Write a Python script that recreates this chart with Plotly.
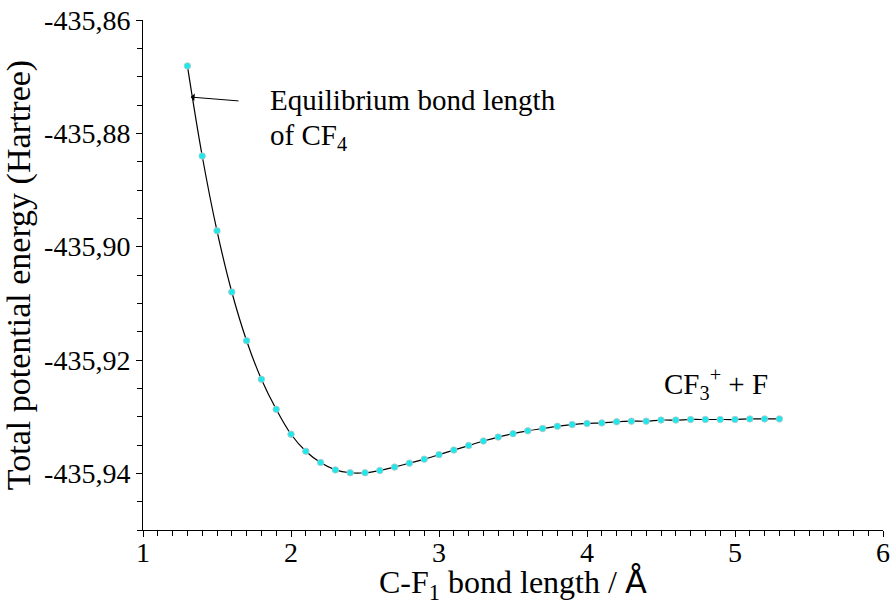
import plotly.graph_objects as go

bond_length = [1.3, 1.4, 1.5, 1.6, 1.7, 1.8, 1.9, 2.0, 2.1, 2.2, 2.3, 2.4, 2.5, 2.6, 2.7,
               2.8, 2.9, 3.0, 3.1, 3.2, 3.3, 3.4, 3.5, 3.6, 3.7, 3.8, 3.9, 4.0, 4.1, 4.2,
               4.3, 4.4, 4.5, 4.6, 4.7, 4.8, 4.9, 5.0, 5.1, 5.2, 5.3]
energy = [-435.8681, -435.8840, -435.8972, -435.9080, -435.9166, -435.9234, -435.9287,
          -435.9331, -435.9361, -435.9381, -435.9394, -435.9399, -435.9399, -435.9395,
          -435.9389, -435.9382, -435.9375, -435.9367, -435.9359, -435.9351, -435.9343,
          -435.9336, -435.9330, -435.9325, -435.9321, -435.9317, -435.9314, -435.9312,
          -435.9311, -435.9309, -435.9308, -435.9308, -435.9306, -435.9306, -435.9305,
          -435.9305, -435.9305, -435.9305, -435.9304, -435.9304, -435.9304]

x_ticks = [1, 2, 3, 4, 5, 6]
y_ticks = [-435.94, -435.92, -435.90, -435.88, -435.86]
y_tick_labels = ["-435,94", "-435,92", "-435,90", "-435,88", "-435,86"]

FONT = "Liberation Serif"

fig = go.Figure()
fig.add_trace(go.Scatter(
    x=bond_length, y=energy, mode="lines",
    line=dict(color="black", width=1.2, shape="spline"),
    hoverinfo="skip", showlegend=False))
fig.add_trace(go.Scatter(
    x=bond_length, y=energy, mode="markers",
    marker=dict(color="#1de9ec", size=6.5, line=dict(color="#b8c4c4", width=0.8)),
    showlegend=False))

# arrow pointing at the equilibrium bond length
fig.add_annotation(x=1.322, y=-435.8736, ax=1.655, ay=-435.8743,
                   xref="x", yref="y", axref="x", ayref="y",
                   text="", showarrow=True, arrowhead=1, arrowsize=1.3,
                   arrowwidth=1, arrowcolor="black")
fig.add_annotation(x=1.845, y=-435.8741, xref="x", yref="y", xanchor="left", yanchor="middle",
                   text="Equilibrium bond length", showarrow=False,
                   font=dict(family=FONT, size=29, color="black"))
fig.add_annotation(x=1.845, y=-435.8806, xref="x", yref="y", xanchor="left", yanchor="middle",
                   text="of CF<sub>4</sub>", showarrow=False,
                   font=dict(family=FONT, size=29, color="black"))
fig.add_annotation(x=4.505, y=-435.9243, xref="x", yref="y", xanchor="left", yanchor="middle",
                   text="CF<sub>3</sub><sup>+</sup> + F", showarrow=False,
                   font=dict(family=FONT, size=29, color="black"))

# x-axis title (placed as paper annotation so it can sit at the bottom edge)
fig.add_annotation(x=0.5, y=-0.105, xref="paper", yref="paper", xanchor="center", yanchor="middle",
                   text='C-F<sub>1</sub> bond length / <span style="font-family:DejaVu Sans">Å</span>',
                   showarrow=False, font=dict(family=FONT, size=32, color="black"))

axis_common = dict(showgrid=False, zeroline=False, showline=True, linecolor="black",
                   linewidth=1, ticks="outside", ticklen=6, tickwidth=1, tickcolor="black",
                   automargin=False,
                   tickfont=dict(family=FONT, size=28, color="black"))

fig.update_xaxes(range=[1, 6], tickvals=x_ticks, ticktext=[str(v) for v in x_ticks],
                 minor=dict(dtick=0.1, ticks="outside", ticklen=5, tickcolor="black", tickwidth=1),
                 ticklabelstandoff=-9,
                 **axis_common)
fig.update_yaxes(range=[-435.95, -435.86], tickvals=y_ticks, ticktext=y_tick_labels,
                 minor=dict(dtick=0.005, tick0=-435.86, ticks="outside", ticklen=5,
                            tickcolor="black", tickwidth=1),
                 ticklabelstandoff=0,
                 title=dict(text="Total potential energy (Hartree)",
                            font=dict(family=FONT, size=34, color="black"), standoff=12),
                 **axis_common)

fig.update_layout(width=894, height=606, plot_bgcolor="white", paper_bgcolor="white",
                  margin=dict(l=143, r=11, t=20, b=76), showlegend=False)

fig.write_html("out.html", config={"displayModeBar": False},
               post_script="document.body.style.margin='0px';")
